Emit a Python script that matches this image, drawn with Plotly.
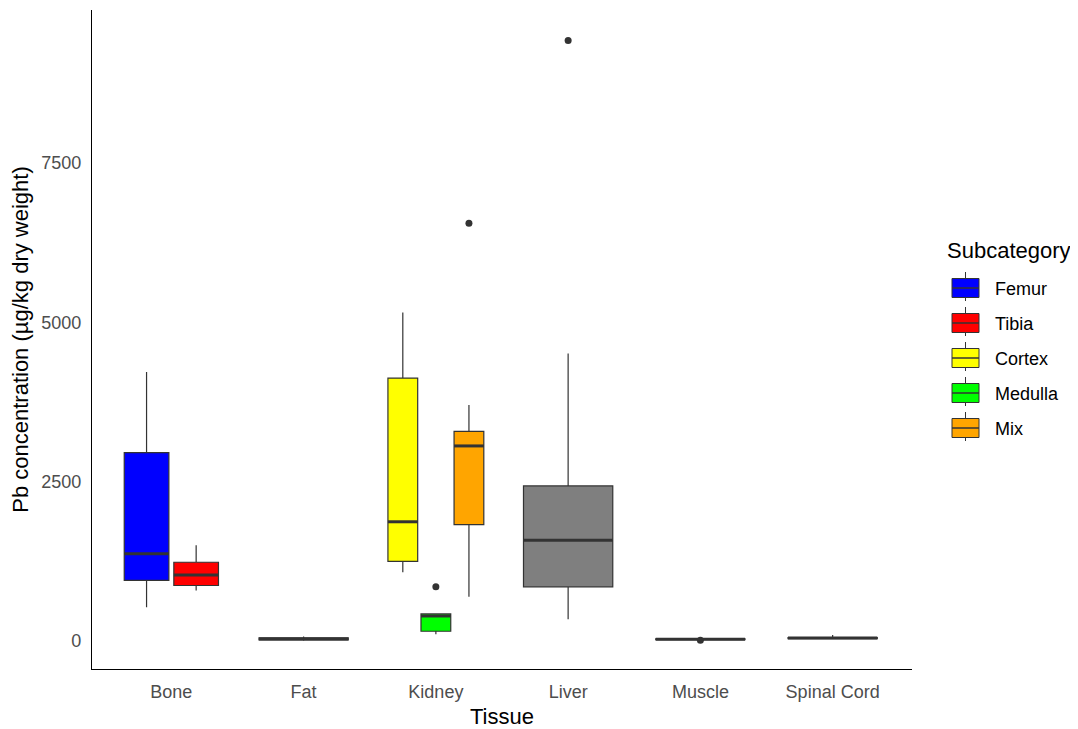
import plotly.graph_objects as go

# ---------------- data ----------------
tissues = ["Bone", "Fat", "Kidney", "Liver", "Muscle", "Spinal Cord"]
subcategories = ["Femur", "Tibia", "Cortex", "Medulla", "Mix"]
sub_colors = ["#0000FF", "#FF0000", "#FFFF00", "#00FF00", "#FFA500"]
na_color = "#7F7F7F"

box_tissue = ["Bone", "Bone", "Fat", "Kidney", "Kidney", "Kidney", "Liver", "Muscle", "Spinal Cord"]
box_sub = ["Femur", "Tibia", None, "Cortex", "Medulla", "Mix", None, None, None]
box_lower = [530, 790, 5, 1078, 105, 695, 340, 20, 30]
box_q1 = [950, 870, 15, 1250, 152, 1825, 850, 22, 38]
box_median = [1370, 1036, 30, 1870, 392, 3060, 1580, 28, 45]
box_q3 = [2955, 1235, 50, 4125, 424, 3290, 2432, 35, 52]
box_upper = [4220, 1500, 70, 5155, 424, 3703, 4510, 45, 95]

outlier_tissue = ["Kidney", "Kidney", "Liver", "Muscle"]
outlier_sub = ["Medulla", "Mix", None, None]
outlier_value = [850, 6555, 9420, 12]

# ---------------- dodge positions (ggplot position_dodge2 style) ----------------
DODGE_W = 0.75
PAD = 0.1


def box_position(i):
    t = box_tissue[i]
    members = [k for k in range(len(box_tissue)) if box_tissue[k] == t]
    n = len(members)
    j = members.index(i)
    slot = DODGE_W / n
    center = tissues.index(t) - DODGE_W / 2 + slot * (j + 0.5)
    return center, slot * (1 - PAD)


def find_box(t, s):
    for k in range(len(box_tissue)):
        if box_tissue[k] == t and box_sub[k] == s:
            return k
    return None


fig = go.Figure()
line_col = "#333333"

# grey (no subcategory) boxes
na_idx = [k for k in range(len(box_sub)) if box_sub[k] is None]
na_pos = [box_position(k)[0] for k in na_idx]
na_w = box_position(na_idx[0])[1]
fig.add_trace(go.Box(
    x=na_pos,
    q1=[box_q1[k] for k in na_idx], median=[box_median[k] for k in na_idx],
    q3=[box_q3[k] for k in na_idx], lowerfence=[box_lower[k] for k in na_idx],
    upperfence=[box_upper[k] for k in na_idx],
    width=na_w, fillcolor=na_color, line=dict(color=line_col, width=1.2),
    whiskerwidth=0, boxpoints=False, showlegend=False, name="NA", hoverinfo="skip"))

# coloured subcategory boxes
for s, c in zip(subcategories, sub_colors):
    idx = [k for k in range(len(box_sub)) if box_sub[k] == s]
    pos = [box_position(k)[0] for k in idx]
    w = box_position(idx[0])[1]
    fig.add_trace(go.Box(
        x=pos,
        q1=[box_q1[k] for k in idx], median=[box_median[k] for k in idx],
        q3=[box_q3[k] for k in idx], lowerfence=[box_lower[k] for k in idx],
        upperfence=[box_upper[k] for k in idx],
        width=w, fillcolor=c, line=dict(color=line_col, width=1.2),
        whiskerwidth=0, boxpoints=False, name=s, showlegend=False))

# thicker median lines
mx, my = [], []
for k in range(len(box_tissue)):
    cx, w = box_position(k)
    mx += [cx - w / 2, cx + w / 2, None]
    my += [box_median[k], box_median[k], None]
fig.add_trace(go.Scatter(x=mx, y=my, mode="lines", line=dict(color=line_col, width=3),
                         showlegend=False, hoverinfo="skip"))

# outliers
ox = [box_position(find_box(t, s))[0] for t, s in zip(outlier_tissue, outlier_sub)]
fig.add_trace(go.Scatter(x=ox, y=outlier_value, mode="markers",
                         marker=dict(color=line_col, size=7), showlegend=False))

# ---------------- ggplot-style legend (keys drawn as boxplot glyphs) ----------------
PLOT_L, PLOT_W, PLOT_B, PLOT_H = 92, 820, 669, 659   # screen pixels of the plot area


def px(xs):
    return (xs - PLOT_L) / PLOT_W


def py(ys):
    return (PLOT_B - ys) / PLOT_H


shapes = []
annotations = []
annotations.append(dict(x=px(945), y=py(250), xref="paper", yref="paper", text="Subcategory",
                        showarrow=False, xanchor="left", yanchor="middle",
                        font=dict(size=22, color="black")))
for k, (s, c) in enumerate(zip(subcategories, sub_colors)):
    cy = 288 + 35 * k
    kx0, kx1 = 952, 979
    kxm = (kx0 + kx1) / 2
    shapes.append(dict(type="line", xref="paper", yref="paper", x0=px(kxm), x1=px(kxm),
                       y0=py(cy - 16), y1=py(cy + 13), line=dict(color=line_col, width=1)))
    shapes.append(dict(type="rect", xref="paper", yref="paper", x0=px(kx0), x1=px(kx1),
                       y0=py(cy - 9.5), y1=py(cy + 9.5), fillcolor=c,
                       line=dict(color=line_col, width=1)))
    shapes.append(dict(type="line", xref="paper", yref="paper", x0=px(kx0), x1=px(kx1),
                       y0=py(cy), y1=py(cy), line=dict(color=line_col, width=1.5)))
    annotations.append(dict(x=px(993), y=py(cy + 1), xref="paper", yref="paper", text=s,
                            showarrow=False, xanchor="left", yanchor="middle",
                            font=dict(size=18, color="black")))

font_family = "Liberation Sans, Arial, sans-serif"
fig.update_layout(
    width=1070, height=721,
    margin=dict(l=84, r=166, t=2, b=60),
    paper_bgcolor="white", plot_bgcolor="white",
    font=dict(family=font_family, color="black"),
    boxmode="overlay",
    showlegend=False,
    shapes=shapes,
    annotations=annotations,
    xaxis=dict(
        range=[-0.6, len(tissues) - 0.4],
        tickvals=list(range(len(tissues))), ticktext=tissues,
        showgrid=False, zeroline=False, showline=True, linecolor="black", linewidth=1.3,
        ticks="outside", ticklen=6, tickcolor="rgba(0,0,0,0)",
        tickfont=dict(size=18, color="#4D4D4D"),
        title=dict(text="Tissue", font=dict(size=22, color="black"), standoff=7),
    ),
    yaxis=dict(
        range=[-440, 9900],
        tickvals=[0, 2500, 5000, 7500],
        showgrid=False, zeroline=False, showline=True, linecolor="black", linewidth=1.3,
        ticks="outside", ticklen=6, tickcolor="rgba(0,0,0,0)",
        tickfont=dict(size=18, color="#4D4D4D"),
        title=dict(text="Pb concentration (µg/kg dry weight)", font=dict(size=22, color="black"), standoff=10),
    ),
)

fig.write_html("out.html")
